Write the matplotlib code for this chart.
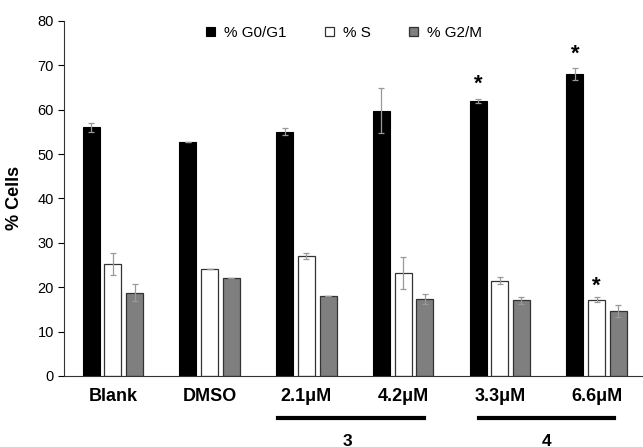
import numpy as np
import matplotlib.pyplot as plt
import matplotlib.transforms as mtransforms

plt.rcParams['font.family'] = ['Liberation Sans', 'DejaVu Sans']

groups = ["Blank", "DMSO", "2.1\u03bcM", "4.2\u03bcM", "3.3\u03bcM", "6.6\u03bcM"]
g0g1 = [56.0, 52.7, 55.0, 59.8, 62.0, 68.0]
g0g1_err = [1.0, 0.0, 0.8, 5.0, 0.4, 1.3]
s_phase = [25.2, 24.0, 27.1, 23.2, 21.5, 17.2]
s_err = [2.5, 0.0, 0.7, 3.6, 0.7, 0.5]
g2m = [18.8, 22.0, 18.0, 17.3, 17.0, 14.6]
g2m_err = [2.0, 0.0, 0.0, 1.1, 0.7, 1.4]

x = np.arange(len(groups))
w = 0.176
off = 0.224

fig = plt.figure(figsize=(6.43, 4.47), dpi=100)
ax = fig.add_axes([0.0988, 0.159, 0.9012, 0.7942])

ekw = dict(ecolor="#999999", elinewidth=0.9, capsize=2.5, capthick=0.9)
ax.bar(x - off, g0g1, w, yerr=g0g1_err, color="black", edgecolor="black",
       linewidth=0.8, label="% G0/G1", error_kw=ekw)
ax.bar(x, s_phase, w, yerr=s_err, color="white", edgecolor="#333333",
       linewidth=0.9, label="% S", error_kw=ekw)
ax.bar(x + off, g2m, w, yerr=g2m_err, color="#7f7f7f", edgecolor="#333333",
       linewidth=0.9, label="% G2/M", error_kw=ekw)

# significance stars
ax.text(x[4] - off, 65.8, "*", ha="center", va="center", fontsize=16, fontweight="bold")
ax.text(x[5] - off, 72.4, "*", ha="center", va="center", fontsize=16, fontweight="bold")
ax.text(x[5], 20.3, "*", ha="center", va="center", fontsize=16, fontweight="bold")

ax.set_xlim(-0.51, 5.48)
ax.set_ylim(0, 80)
ax.set_yticks(range(0, 81, 10))
ax.tick_params(axis="y", labelsize=10.5, length=4, width=0.8, pad=3)
ax.set_xticks(x)
ax.set_xticklabels(groups, fontsize=13, fontweight="bold")
ax.tick_params(axis="x", length=0, pad=9)
ax.set_ylabel("% Cells", fontsize=13, fontweight="bold")
ax.yaxis.set_label_coords(-0.07, 0.5)
for sp in ["top", "right"]:
    ax.spines[sp].set_visible(False)
ax.spines["left"].set_color("#333333")
ax.spines["bottom"].set_color("#333333")

# compound brackets
trans = mtransforms.blended_transform_factory(ax.transData, ax.transAxes)
ax.plot([1.71, 3.22], [-0.118, -0.118], color="black", lw=3, transform=trans, clip_on=False)
ax.plot([3.78, 5.18], [-0.118, -0.118], color="black", lw=3, transform=trans, clip_on=False)
ax.text(2.43, -0.196, "3", transform=trans, ha="center", va="baseline", fontsize=12.5, fontweight="bold")
ax.text(4.48, -0.196, "4", transform=trans, ha="center", va="baseline", fontsize=12.5, fontweight="bold")

ax.legend(loc="center", bbox_to_anchor=(0.484, 0.966), ncol=3, frameon=False,
          fontsize=11, handlelength=0.6, handleheight=0.6, handletextpad=0.6,
          columnspacing=2.5, borderpad=0)

fig.savefig("out.png", dpi=100)
